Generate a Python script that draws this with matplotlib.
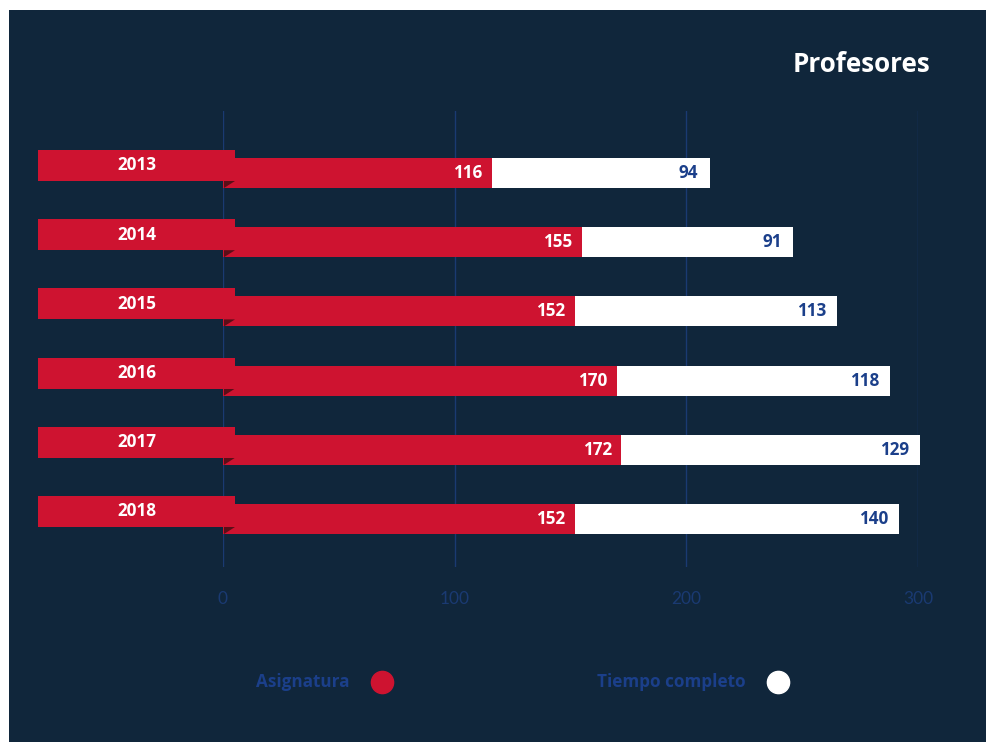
import matplotlib.pyplot as plt
from matplotlib.patches import Rectangle, Polygon
from matplotlib.lines import Line2D

years = ["2013", "2014", "2015", "2016", "2017", "2018"]
asignatura = [116, 155, 152, 170, 172, 152]
tiempo_completo = [94, 91, 113, 118, 129, 140]
xticks = [0, 100, 200, 300]

BG = "#10263b"
RED = "#ce1330"
FOLD = "#5a0e18"
BLUE = "#1b3f8a"
GRID = "#1a3a72"
BOLD = ["Open Sans", "DejaVu Sans"]

plt.rcParams["font.family"] = ["Lato", "DejaVu Sans"]

W, H = 986, 742
fig = plt.figure(figsize=(W / 100, H / 100), dpi=100, facecolor="white")
fig.add_artist(Rectangle((9 / W, 0), 1, 1 - 10 / H, transform=fig.transFigure,
                         facecolor=BG, edgecolor="none", zorder=0))

# axes: 0..300 spans pixel 223..918, top 111, bottom 567
ax = fig.add_axes([223 / W, 1 - 567 / H, (918 - 223) / W, (567 - 111) / H])
ax.set_facecolor("none")
ax.set_xlim(0, 300)
row_px = 69.2
ax.set_ylim((567 - 173) / row_px, (111 - 173) / row_px)
for s in ax.spines.values():
    s.set_visible(False)
ax.set_yticks([])
ax.set_xticks(xticks)
ax.tick_params(axis="x", length=0, pad=17, labelsize=12.5, labelcolor=GRID)
ax.grid(axis="x", color=GRID, lw=1)
ax.set_axisbelow(True)

px = 300 / (918 - 223)          # data units per pixel (x)
bh = 30 / row_px                # bar height in rows
rows = list(range(len(years)))

ax.barh(rows, asignatura, height=bh, color=RED, zorder=2, clip_on=False)
ax.barh(rows, tiempo_completo, left=asignatura, height=bh, color="white",
        zorder=2, clip_on=False)

flag_left = (38 - 223) * px
flag_right = (235 - 223) * px
fold_left = (224 - 223) * px
for i, yr in enumerate(years):
    top = i + (150 - 173) / row_px
    bot = i + (181 - 173) / row_px
    ax.add_patch(Polygon([(fold_left, bot), (flag_right, bot), (fold_left, i + bh / 2)],
                         closed=True, facecolor=FOLD, edgecolor="none",
                         zorder=3, clip_on=False))
    ax.add_patch(Rectangle((flag_left, top), flag_right - flag_left, bot - top,
                           facecolor=RED, edgecolor="none", zorder=4, clip_on=False))
    ax.text((flag_left + flag_right) / 2, (top + bot) / 2, yr, color="white",
            fontsize=12.3, fontweight="bold", family=BOLD, ha="center",
            va="center", zorder=5, clip_on=False)
    a, t = asignatura[i], tiempo_completo[i]
    ax.annotate(str(a), (a, i), xytext=(-7, 0), textcoords="offset points",
                ha="right", va="center", color="white", fontsize=12.3,
                fontweight="bold", family=BOLD, zorder=5, annotation_clip=False)
    ax.annotate(str(t), (a + t, i), xytext=(-8, 0), textcoords="offset points",
                ha="right", va="center", color=BLUE, fontsize=12.3,
                fontweight="bold", family=BOLD, zorder=5, annotation_clip=False)

fig.text(930 / W, 1 - 64 / H, "Profesores", color="white", fontsize=18.7,
         fontweight="bold", family=BOLD, ha="right", va="center")

# legend
leg_y = 1 - 682 / H
fig.text(350 / W, leg_y, "Asignatura", color=BLUE, fontsize=12.3,
         fontweight="bold", family=BOLD, ha="right", va="center")
fig.add_artist(Line2D([382 / W], [leg_y], transform=fig.transFigure, marker="o",
                      markersize=16, color=RED, linestyle="none"))
fig.text(746 / W, leg_y, "Tiempo completo", color=BLUE, fontsize=12.3,
         fontweight="bold", family=BOLD, ha="right", va="center")
fig.add_artist(Line2D([778 / W], [leg_y], transform=fig.transFigure, marker="o",
                      markersize=16, color="white", linestyle="none"))

fig.savefig("out.png", dpi=100, facecolor=fig.get_facecolor())
